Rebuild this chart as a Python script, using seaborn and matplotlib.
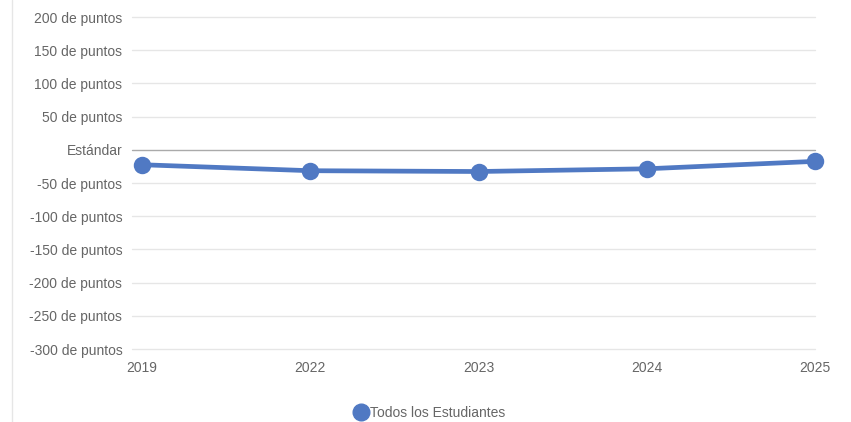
import pandas as pd
import matplotlib.pyplot as plt
from matplotlib.lines import Line2D
import seaborn as sns

years = ['2019', '2022', '2023', '2024', '2025']
scores = [-22.5, -31.5, -32.7, -28.6, -17.4]
series_name = 'Todos los Estudiantes'
y_ticks = [-300, -250, -200, -150, -100, -50, 0, 50, 100, 150, 200]

df = pd.DataFrame({'year': years, 'score': scores})

sns.set_style('white')
plt.rcParams['font.family'] = ['Liberation Sans', 'DejaVu Sans']

blue = '#5079c3'
text_grey = '#666666'

fig = plt.figure(figsize=(8.51, 4.22), dpi=100)
ax = fig.add_axes([132 / 851, 1 - 349 / 422, (815 - 132) / 851, (349 - 17) / 422])

# horizontal grid lines
for t in y_ticks:
    ax.axhline(t, color='#aaaaaa' if t == 0 else '#e6e6e6', lw=1, zorder=0, clip_on=False)

sns.pointplot(data=df, x='year', y='score', color=blue, ax=ax,
              markers='o', markersize=10, linewidth=3.4, errorbar=None)
for art in ax.lines + ax.collections:
    art.set_clip_on(False)

ax.set_xlim(-0.06, 4.0)
ax.set_ylim(-300, 200)
ax.set_yticks(y_ticks)
ax.set_yticklabels(['Estándar' if t == 0 else f'{t} de puntos' for t in y_ticks])
ax.set_xlabel('')
ax.set_ylabel('')
ax.tick_params(axis='both', length=0, labelsize=10, labelcolor=text_grey)
ax.tick_params(axis='y', pad=7)
ax.tick_params(axis='x', pad=9)
for s in ax.spines.values():
    s.set_visible(False)

# thin frame line on the left of the card
fig.add_artist(Line2D([12 / 851, 12 / 851], [0, 1], color='#e6e6e6', lw=1))

handle = Line2D([], [], marker='o', color=blue, linestyle='none', markersize=12)
fig.legend([handle], [series_name], loc='center', bbox_to_anchor=(0.505, 0.022),
           frameon=False, fontsize=10, labelcolor=text_grey, handletextpad=0.15,
           handlelength=1.0)

fig.savefig('out.png', dpi=100)
